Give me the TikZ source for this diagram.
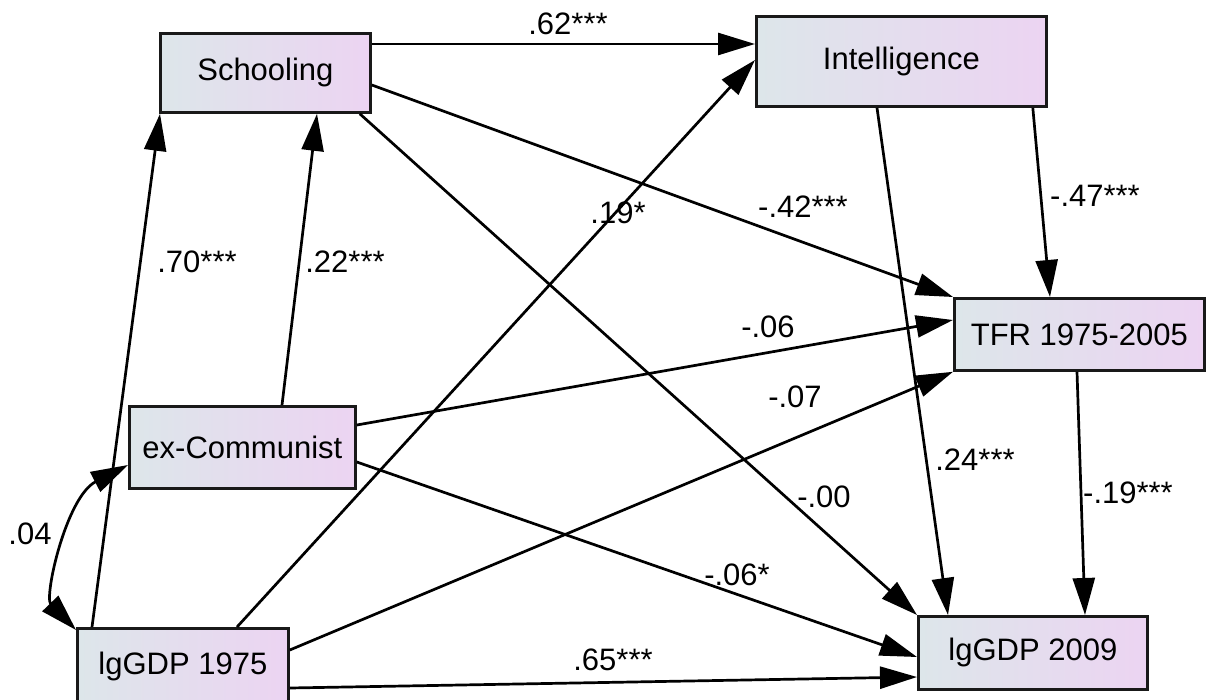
\documentclass[tikz,border=0pt]{standalone}
\usepackage{fontspec}
\setmainfont{Liberation Sans}
\usetikzlibrary{arrows.meta,calc}
\definecolor{boxL}{RGB}{221,230,234}
\definecolor{boxR}{RGB}{236,212,242}
\begin{document}
\begin{tikzpicture}[x=1pt,y=-1pt,
  var/.style={draw=black!90, line width=2.8pt, left color=boxL, right color=boxR,
              inner sep=0pt, anchor=north west, font=\fontsize{31}{35}\selectfont},
  reg/.style={line width=2.7pt, -{Triangle[length=37pt,width=22pt]}},
  cov/.style={line width=2.7pt, {Triangle[length=37pt,width=22pt]}-{Triangle[length=37pt,width=22pt]}},
  coef/.style={inner sep=0pt, font=\fontsize{31}{35}\selectfont}]
\useasboundingbox (0,0) rectangle (1209,700);

% observed variables
\node[var, minimum width=210pt, minimum height=79pt] (school) at (159,32)  {Schooling};
\node[var, minimum width=290pt, minimum height=90pt] (intel)  at (755,15)  {Intelligence};
\node[var, minimum width=250pt, minimum height=72pt] (tfr)    at (953,297) {TFR 1975-2005};
\node[var, minimum width=229pt, minimum height=73pt] (g09)    at (917,615) {lgGDP 2009};
\node[var, minimum width=226pt, minimum height=82pt] (ex)     at (128,405) {ex-Communist};
\node[var, minimum width=211pt, minimum height=76pt] (g75)    at (76,627)  {lgGDP 1975};

% regression paths
\draw[reg] ($(school.north east)+(0,12)$) -- ($(intel.north west)+(0,29)$);
\draw[reg] ($(school.north east)+(0,53)$) -- (tfr.north west);
\draw[reg] ($(school.south east)+(-12,0)$) -- (g09.north west);
\draw[reg] ($(intel.south east)+(-15,0)$) -- ($(tfr.north west)+(97,0)$);
\draw[reg] ($(intel.south west)+(122,0)$) -- ($(g09.north west)+(31,0)$);
\draw[reg] ($(tfr.south west)+(124,0)$) -- ($(g09.north west)+(168,0)$);
\draw[reg] ($(g75.north west)+(16,0)$) -- ($(school.south west)+(1,0)$);
\draw[reg] ($(ex.north west)+(154,0)$) -- ($(school.south west)+(158,0)$);
\draw[reg] ($(g75.north west)+(161,0)$) -- ($(intel.north west)+(0,45)$);
\draw[reg] ($(g75.north east)+(0,23)$) -- (tfr.south west);
\draw[reg] ($(g75.north east)+(0,61)$) -- ($(g09.north west)+(0,62)$);
\draw[reg] ($(ex.north east)+(0,20)$) -- ($(tfr.north west)+(0,23)$);
\draw[reg] ($(ex.north east)+(0,57)$) -- ($(g09.north west)+(0,42)$);

% covariance
\draw[cov] ($(ex.north west)+(0,60)$) .. controls ($(ex.north west)+(-62,92)$) and ($(g75.north west)+(-32,-30)$) .. ($(g75.north west)+(0,3)$);

% coefficients
\node[coef] (c1)  at (568,24)  {.62***};
\node[coef] (c2)  at (803,207) {-.42***};
\node[coef] (c3)  at (1095,196) {-.47***};
\node[coef] (c4)  at (975,460) {.24***};
\node[coef] (c5)  at (1128,493) {-.19***};
\node[coef] (c6)  at (824,497) {-.00};
\node[coef] (c7)  at (30,534)  {.04};
\node[coef] (c8)  at (197,262) {.70***};
\node[coef] (c9)  at (345,262) {.22***};
\node[coef] (c10) at (618,213) {.19*};
\node[coef] (c11) at (768,327) {-.06};
\node[coef] (c12) at (795,397) {-.07};
\node[coef] (c13) at (737,575) {-.06*};
\node[coef] (c14) at (613,660) {.65***};
\end{tikzpicture}
\end{document}
